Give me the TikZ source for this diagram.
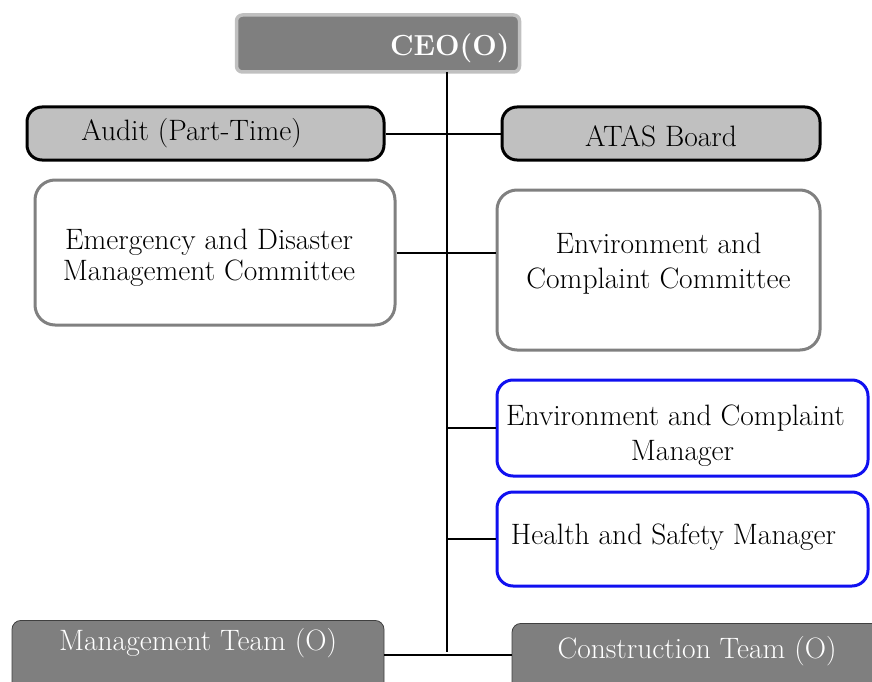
\documentclass[tikz,border=0pt]{standalone}
\usepackage{tikz}

\definecolor{boxgray}{HTML}{7F7F7F}
\definecolor{lightgray}{HTML}{C0C0C0}
\definecolor{edgegray}{HTML}{808080}
\definecolor{mgrblue}{HTML}{1010F0}

\begin{document}
\begin{tikzpicture}[x=1pt,y=-1pt,
  every node/.style={font=\fontsize{29.5}{34}\selectfont, align=center},
  ceobox/.style={rectangle, rounded corners=6pt, fill=boxgray, draw=lightgray, line width=3.5pt, text=white, font=\fontsize{29}{30}\selectfont\bfseries},
  sidebox/.style={rectangle, rounded corners=15pt, fill=lightgray, draw=black, line width=3pt},
  cmtbox/.style={rectangle, rounded corners=20pt, fill=white, draw=edgegray, line width=3pt},
  mgrbox/.style={rectangle, rounded corners=16pt, fill=white, draw=mgrblue, line width=3pt},
  teambox/.style={rectangle, rounded corners=9pt, fill=boxgray, draw=black!75, line width=0.8pt, text=white},
  link/.style={black, line width=2pt}]
\useasboundingbox (0,0) rectangle (872,682);
\node[ceobox, minimum width=283pt, minimum height=57pt, text width=263pt, inner xsep=10pt, align=right] (ceo) at (378,43.5) {\raisebox{-5pt}[\height][\depth]{CEO(O)}};
\node[sidebox, minimum width=357pt, minimum height=53pt] (audit) at (205.5,133.5) {Audit (Part-Time)\hspace*{28pt}};
\node[sidebox, minimum width=318pt, minimum height=53pt] (atas) at (661,133.5) {\raisebox{-3pt}[\height][\depth]{ATAS Board}};
\node[cmtbox, minimum width=360pt, minimum height=145pt] (emerg) at (215,252.5) {\raisebox{-5pt}[\height][\depth]{\shortstack{Emergency and Disaster\\[1pt]Management Committee}}\hspace*{12pt}};
\node[cmtbox, minimum width=323pt, minimum height=160pt] (envcom) at (658.5,270) {\raisebox{6pt}[\height][\depth]{\shortstack{Environment and\\[11pt]Complaint Committee}}};
\node[mgrbox, minimum width=371pt, minimum height=96pt] (ecmgr) at (682.5,428) {\raisebox{-8pt}[\height][\depth]{\shortstack{Environment and Complaint\hspace*{14pt}\\[6pt]Manager}}};
\node[mgrbox, minimum width=371pt, minimum height=94pt] (hsmgr) at (682.5,539) {\raisebox{2pt}[\height][\depth]{Health and Safety Manager}\hspace*{18pt}};
\node[teambox, anchor=north, minimum width=372pt, text depth=50pt, inner ysep=8pt] (mgmt) at (198,620) {Management Team (O)};
\node[teambox, anchor=north, minimum width=370pt, text depth=50pt, inner ysep=13pt] (cons) at (697,623) {Construction Team (O)};
\coordinate (spinetop) at (447,72);
\coordinate (spinebot) at (447,652);
\coordinate (teamjoin) at (447,655);
\draw[link] (spinetop) -- (spinebot);
\draw[link] (audit.east) -- (atas.west);
\draw[link] (emerg.east) -- (emerg.east -| envcom.west);
\draw[link] (spinetop |- ecmgr.west) -- (ecmgr.west);
\draw[link] (spinetop |- hsmgr.west) -- (hsmgr.west);
\draw[link] (teamjoin -| mgmt.east) -- (teamjoin -| cons.west);
\end{tikzpicture}
\end{document}
